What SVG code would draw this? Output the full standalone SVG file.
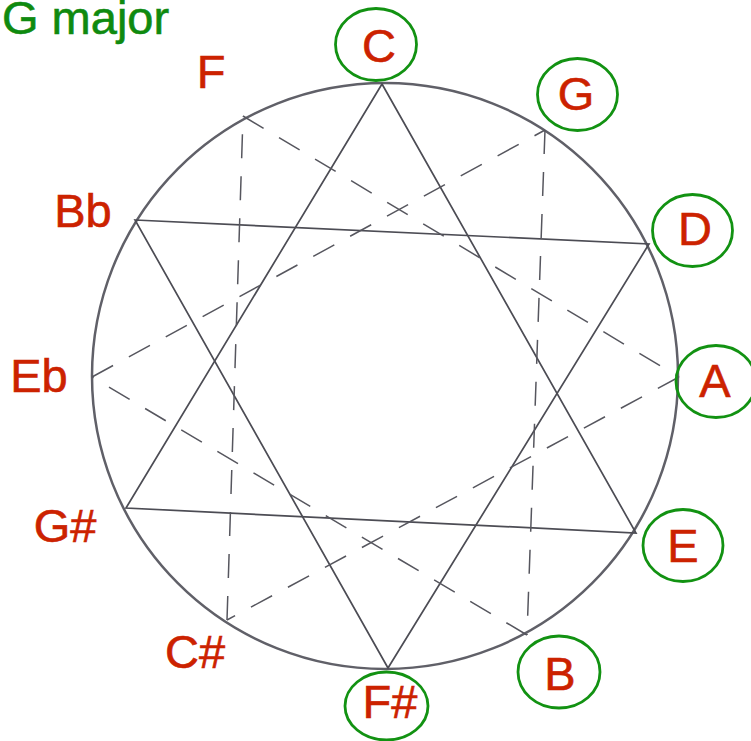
<svg xmlns="http://www.w3.org/2000/svg" width="751" height="741" viewBox="0 0 751 741">
  <style>
    .rim { fill: none; stroke: #606068; stroke-width: 2.5; }
    .solid { stroke: #4c4c54; stroke-width: 1.7; fill: none; stroke-linecap: round; }
    .dash { stroke: #56565e; stroke-width: 1.5; fill: none; stroke-dasharray: 24 18; }
    .ring { fill: none; stroke: #129212; stroke-width: 2.8; }
    .note { font-family: "Liberation Sans", Arial, sans-serif; font-size: 47px; fill: #cc2200; stroke: #cc2200; stroke-width: 0.6; text-anchor: middle; }
    .title { font-family: "Liberation Sans", Arial, sans-serif; font-size: 47px; fill: #0f8a0f; stroke: #0f8a0f; stroke-width: 0.6; }
  </style>
  <rect width="751" height="741" fill="#ffffff"/>

  <text class="title" x="2" y="34">G major</text>

  <circle class="rim" cx="385" cy="376" r="293"/>

  <g id="connectors">
    <!-- major-third cycle C - E - G# -->
    <polygon class="solid" points="382,84 636,533 126,508"/>
    <!-- major-third cycle Bb - D - F# -->
    <polygon class="solid" points="135,220 649,244 388,668"/>
    <!-- augmented triad F - A - C# (dashed) -->
    <line class="dash" x1="243" y1="116" x2="679" y2="377"/>
    <line class="dash" x1="679" y1="377" x2="227" y2="620"/>
    <line class="dash" x1="227" y1="620" x2="243" y2="116"/>
    <!-- augmented triad G - B - Eb (dashed) -->
    <line class="dash" x1="545" y1="130" x2="527" y2="635"/>
    <line class="dash" x1="527" y1="635" x2="92" y2="377"/>
    <line class="dash" x1="92" y1="377" x2="545" y2="130"/>
  </g>

  <g id="node-C">
    <ellipse class="ring" cx="376" cy="44.5" rx="40.5" ry="36"/>
    <text class="note" x="379" y="62">C</text>
  </g>
  <g id="node-G">
    <ellipse class="ring" cx="577.5" cy="94.5" rx="40" ry="36"/>
    <text class="note" x="576" y="110">G</text>
  </g>
  <g id="node-D">
    <ellipse class="ring" cx="692.5" cy="230.5" rx="40" ry="36"/>
    <text class="note" x="695" y="245">D</text>
  </g>
  <g id="node-A">
    <ellipse class="ring" cx="716" cy="381.5" rx="40" ry="36"/>
    <text class="note" x="715" y="397">A</text>
  </g>
  <g id="node-E">
    <ellipse class="ring" cx="683" cy="545.5" rx="40" ry="36"/>
    <text class="note" x="683" y="562">E</text>
  </g>
  <g id="node-B">
    <ellipse class="ring" cx="559" cy="672" rx="41" ry="36"/>
    <text class="note" x="560" y="690">B</text>
  </g>
  <g id="node-Fsharp">
    <ellipse class="ring" cx="386.5" cy="706" rx="41.5" ry="34"/>
    <text class="note" x="390" y="718">F#</text>
  </g>
  <g id="node-Csharp">
    <text class="note" x="195" y="668">C#</text>
  </g>
  <g id="node-Gsharp">
    <text class="note" x="65" y="542">G#</text>
  </g>
  <g id="node-Eb">
    <text class="note" x="39" y="392">Eb</text>
  </g>
  <g id="node-Bb">
    <text class="note" x="83" y="227">Bb</text>
  </g>
  <g id="node-F">
    <text class="note" x="211" y="88">F</text>
  </g>
</svg>
